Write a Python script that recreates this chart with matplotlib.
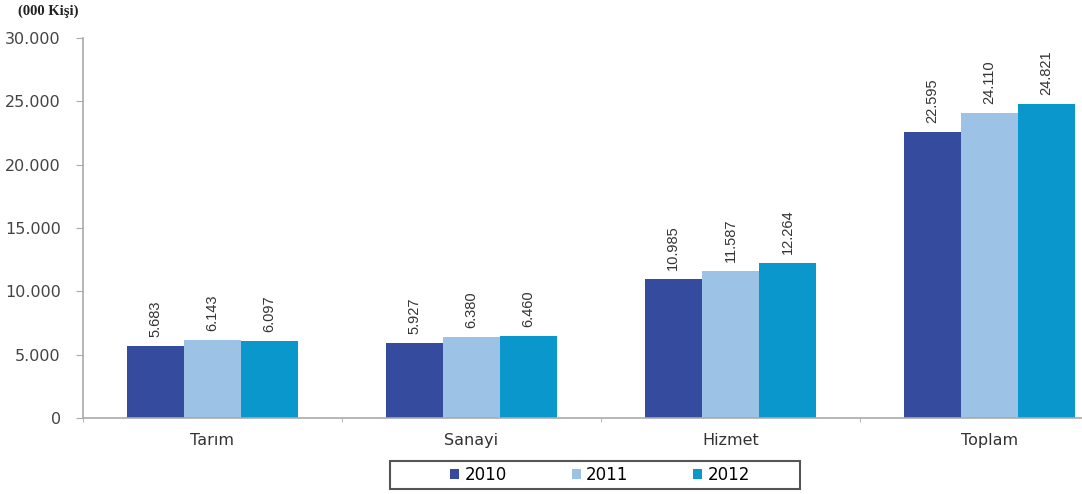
import numpy as np
import matplotlib.pyplot as plt
from matplotlib.patches import Rectangle
from matplotlib.ticker import FuncFormatter

categories = ["Tarım", "Sanayi", "Hizmet", "Toplam"]
years = ["2010", "2011", "2012"]
v2010 = [5683, 5927, 10985, 22595]
v2011 = [6143, 6380, 11587, 24110]
v2012 = [6097, 6460, 12264, 24821]
colors = ["#354C9E", "#9CC3E5", "#0A98CC"]

plt.rcParams["font.family"] = ["DejaVu Sans"]


def tr_fmt(v):
    # Turkish style thousands separator
    return f"{int(v):,}".replace(",", ".")


fig = plt.figure(figsize=(10.82, 4.94), dpi=100)
# axes runs past the right edge, the last category is clipped in the figure
ax = fig.add_axes([0.0767, 0.1538, 0.9575, 0.7694])

x = np.arange(len(categories))
w = 0.221
series = [v2010, v2011, v2012]
for i, (vals, col, yr) in enumerate(zip(series, colors, years)):
    pos = x + (i - 1) * w
    ax.bar(pos, vals, width=w, color=col, label=yr, zorder=2)
    for p, v in zip(pos, vals):
        ax.annotate(tr_fmt(v), (p, v), xytext=(0, 6.5), textcoords="offset points",
                    rotation=90, ha="center", va="bottom", fontsize=10.5,
                    family=["Liberation Sans Narrow", "Liberation Sans", "DejaVu Sans"],
                    color="#333333")

ax.set_xlim(-0.5, len(categories) - 0.5)
ax.set_ylim(0, 30000)
ax.set_yticks(np.arange(0, 30001, 5000))
ax.yaxis.set_major_formatter(FuncFormatter(lambda v, _: "0" if v == 0 else tr_fmt(v)))
ax.set_xticks(x)
ax.set_xticklabels(categories)
ax.set_xticks(np.arange(-0.5, len(categories) + 0.5, 1), minor=True)
ax.tick_params(axis="x", which="major", length=0, pad=11, labelsize=11.5, labelcolor="#333333")
ax.tick_params(axis="x", which="minor", length=3, color="#aaaaaa")
ax.tick_params(axis="y", length=5, color="#aaaaaa", labelsize=11.5, labelcolor="#444444", pad=11)

for s in ["top", "right"]:
    ax.spines[s].set_visible(False)
ax.spines["left"].set_color("#aaaaaa")
ax.spines["bottom"].set_color("#aaaaaa")
ax.spines["left"].set_linewidth(1.2)
ax.spines["bottom"].set_linewidth(1.2)

fig.text(0.017, 0.977, "(000 Kişi)", fontsize=10.5, fontweight="bold",
         family=["Liberation Serif", "DejaVu Serif"], va="center", ha="left", color="#222222")

# legend entries without frame, box drawn separately
leg = fig.legend(loc="center", bbox_to_anchor=(0.5545, 0.0385), ncol=3,
                 frameon=False, fontsize=12, handlelength=0.55, handleheight=0.55,
                 handletextpad=0.3, columnspacing=3.9)
fig.patches.append(Rectangle((390 / 1082, 1 - 489 / 494), 410 / 1082, 28 / 494,
                             transform=fig.transFigure, fill=False,
                             edgecolor="#555555", linewidth=1.5))

fig.savefig("out.png", dpi=100)
